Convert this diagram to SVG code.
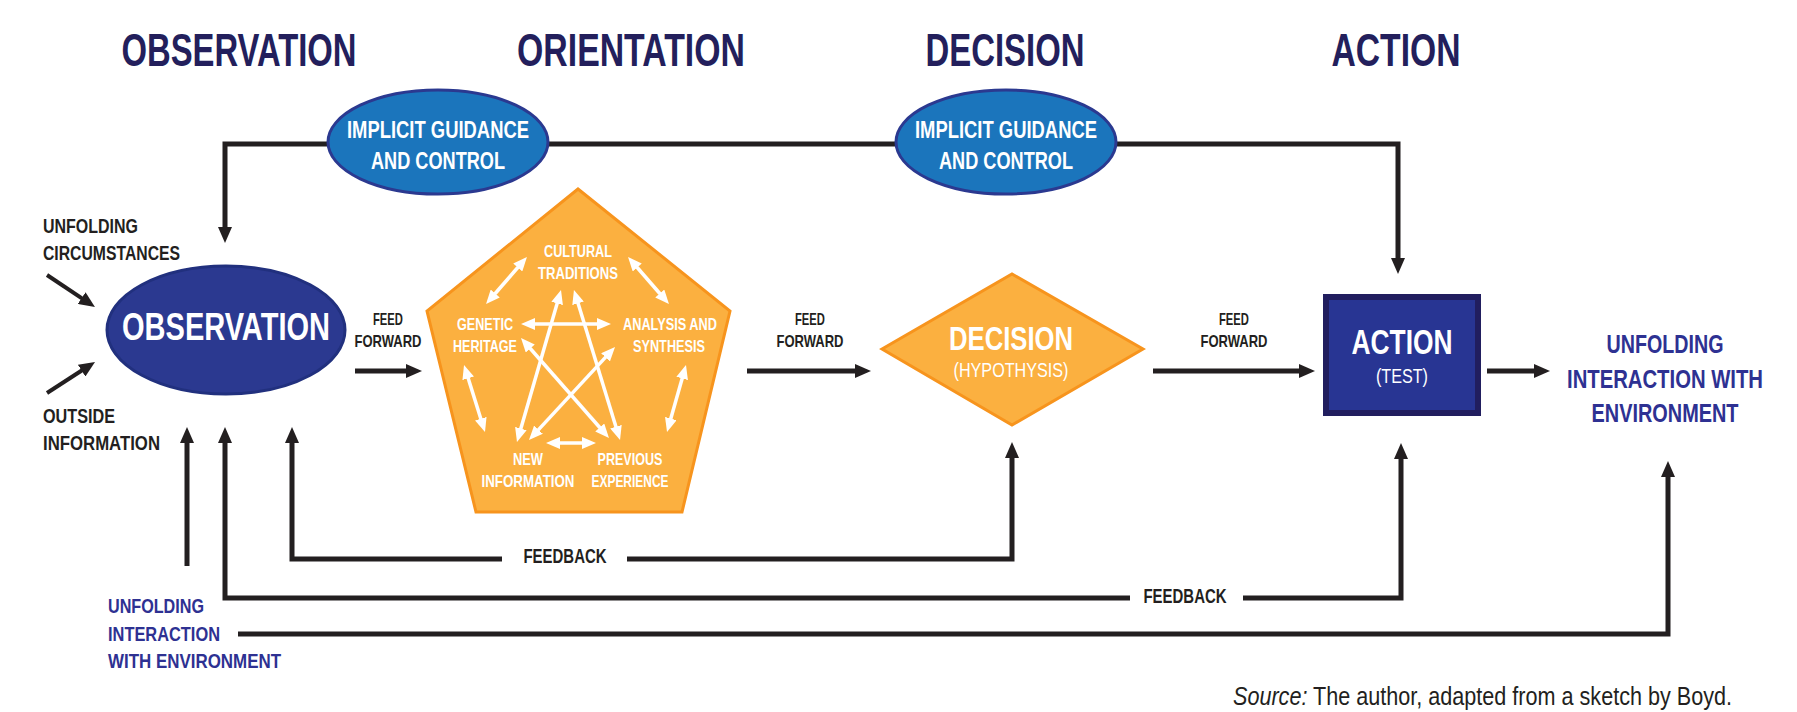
<svg xmlns="http://www.w3.org/2000/svg" width="1797" height="712" viewBox="0 0 1797 712">
<style>
text{font-family:"Liberation Sans",Arial,sans-serif;font-weight:bold}
text.nb{font-weight:normal}
.title{font-size:46px;fill:#231f5c;text-anchor:middle}
.wt{fill:#ffffff;text-anchor:middle}
.lbl{font-size:20px;fill:#231f20}
.ff{font-size:17px;fill:#231f20;text-anchor:middle}
.blue{fill:#2e3192}
.pt{font-size:16.5px;fill:#ffffff;text-anchor:middle}
.conn{fill:none;stroke:#231f20;stroke-width:5;stroke-linejoin:miter}
.thin{stroke-width:4}
.warr{stroke:#ffffff;stroke-width:3.5;fill:none;marker-start:url(#wh);marker-end:url(#wh)}
.igc{fill:#1b75bc;stroke:#2b3990;stroke-width:3}
.orange{fill:#fbb040;stroke:#f7941d;stroke-width:3}
</style>
<defs>
<marker id="ah" viewBox="0 0 16 14" refX="8" refY="7" markerWidth="16" markerHeight="14" markerUnits="userSpaceOnUse" orient="auto-start-reverse">
<path d="M0,0 L16,7 L0,14 z" fill="#231f20"/>
</marker>
<marker id="wh" viewBox="0 0 14 12" refX="6" refY="6" markerWidth="14" markerHeight="12" markerUnits="userSpaceOnUse" orient="auto-start-reverse">
<path d="M0,0 L14,6 L0,12 z" fill="#ffffff"/>
</marker>
</defs>
<rect width="1797" height="712" fill="#ffffff"/>

<g id="titles">
<text class="title" x="239" y="66" textLength="235" lengthAdjust="spacingAndGlyphs">OBSERVATION</text>
<text class="title" x="631" y="66" textLength="228" lengthAdjust="spacingAndGlyphs">ORIENTATION</text>
<text class="title" x="1005" y="66" textLength="159" lengthAdjust="spacingAndGlyphs">DECISION</text>
<text class="title" x="1396" y="66" textLength="129" lengthAdjust="spacingAndGlyphs">ACTION</text>
</g>

<g id="connectors">
<path class="conn" d="M1398,266 V144 H225 V235" marker-start="url(#ah)" marker-end="url(#ah)"/>
<path class="conn thin" d="M47,275 L88.3,302.6" marker-end="url(#ah)"/>
<path class="conn thin" d="M47,393 L88.3,366.3" marker-end="url(#ah)"/>
<path class="conn" d="M355,371 H414" marker-end="url(#ah)"/>
<path class="conn" d="M747,371 H863" marker-end="url(#ah)"/>
<path class="conn" d="M1153,371 H1307" marker-end="url(#ah)"/>
<path class="conn" d="M1487,371 H1542" marker-end="url(#ah)"/>
<path class="conn" d="M187,566 V435" marker-end="url(#ah)"/>
<path class="conn" d="M225,435 V598 H1401 V451" marker-start="url(#ah)" marker-end="url(#ah)"/>
<path class="conn" d="M292,435 V559 H1012 V450" marker-start="url(#ah)" marker-end="url(#ah)"/>
<path class="conn" d="M238,634 H1668 V469" marker-end="url(#ah)"/>
<rect x="502" y="545" width="125" height="28" fill="#ffffff"/>
<text class="lbl" x="565" y="563" text-anchor="middle" textLength="83" lengthAdjust="spacingAndGlyphs">FEEDBACK</text>
<rect x="1130" y="585" width="113" height="28" fill="#ffffff"/>
<text class="lbl" x="1185" y="603" text-anchor="middle" textLength="83" lengthAdjust="spacingAndGlyphs">FEEDBACK</text>
<text class="ff" x="388" y="325" textLength="30" lengthAdjust="spacingAndGlyphs">FEED</text>
<text class="ff" x="388" y="347" textLength="67" lengthAdjust="spacingAndGlyphs">FORWARD</text>
<text class="ff" x="810" y="325" textLength="30" lengthAdjust="spacingAndGlyphs">FEED</text>
<text class="ff" x="810" y="347" textLength="67" lengthAdjust="spacingAndGlyphs">FORWARD</text>
<text class="ff" x="1234" y="325" textLength="30" lengthAdjust="spacingAndGlyphs">FEED</text>
<text class="ff" x="1234" y="347" textLength="67" lengthAdjust="spacingAndGlyphs">FORWARD</text>
</g>

<g id="igc-left">
<ellipse class="igc" cx="438" cy="142" rx="110" ry="52"/>
<text class="wt" x="438" y="138" font-size="24" textLength="182" lengthAdjust="spacingAndGlyphs">IMPLICIT GUIDANCE</text>
<text class="wt" x="438" y="169" font-size="24" textLength="134" lengthAdjust="spacingAndGlyphs">AND CONTROL</text>
</g>
<g id="igc-right">
<ellipse class="igc" cx="1006" cy="142" rx="110" ry="52"/>
<text class="wt" x="1006" y="138" font-size="24" textLength="182" lengthAdjust="spacingAndGlyphs">IMPLICIT GUIDANCE</text>
<text class="wt" x="1006" y="169" font-size="24" textLength="134" lengthAdjust="spacingAndGlyphs">AND CONTROL</text>
</g>

<g id="inputs">
<text class="lbl" x="43" y="233" textLength="95" lengthAdjust="spacingAndGlyphs">UNFOLDING</text>
<text class="lbl" x="43" y="260" textLength="137" lengthAdjust="spacingAndGlyphs">CIRCUMSTANCES</text>
<text class="lbl" x="43" y="423" textLength="72" lengthAdjust="spacingAndGlyphs">OUTSIDE</text>
<text class="lbl" x="43" y="450" textLength="117" lengthAdjust="spacingAndGlyphs">INFORMATION</text>
</g>

<g id="observation">
<ellipse cx="226" cy="330" rx="119" ry="64" fill="#2b3990" stroke="#21307e" stroke-width="3"/>
<text class="wt" x="226" y="340" font-size="39" textLength="208" lengthAdjust="spacingAndGlyphs">OBSERVATION</text>
</g>

<g id="orientation">
<polygon class="orange" points="578,189 730,311 682,512 476,512 427,311"/>
<path class="warr" d="M521.7,263 L491.3,298"/>
<path class="warr" d="M633.3,263 L663.7,298"/>
<path class="warr" d="M529,324 L603,324"/>
<path class="warr" d="M466.4,372.6 L482.6,424.4"/>
<path class="warr" d="M683.8,372.7 L669.2,424.3"/>
<path class="warr" d="M554,443 L588,443"/>
<path class="warr" d="M558.8,297.7 L519.2,434.3"/>
<path class="warr" d="M576.3,297.6 L617.7,432.4"/>
<path class="warr" d="M526.3,344 L603.7,432"/>
<path class="warr" d="M609.6,352.9 L534.4,434.1"/>
<text class="pt" x="578" y="257" textLength="68" lengthAdjust="spacingAndGlyphs">CULTURAL</text>
<text class="pt" x="578" y="279" textLength="80" lengthAdjust="spacingAndGlyphs">TRADITIONS</text>
<text class="pt" x="485" y="330" textLength="56" lengthAdjust="spacingAndGlyphs">GENETIC</text>
<text class="pt" x="485" y="352" textLength="64" lengthAdjust="spacingAndGlyphs">HERITAGE</text>
<text class="pt" x="670" y="330" textLength="94" lengthAdjust="spacingAndGlyphs">ANALYSIS AND</text>
<text class="pt" x="669" y="352" textLength="72" lengthAdjust="spacingAndGlyphs">SYNTHESIS</text>
<text class="pt" x="528" y="465" textLength="30" lengthAdjust="spacingAndGlyphs">NEW</text>
<text class="pt" x="528" y="487" textLength="93" lengthAdjust="spacingAndGlyphs">INFORMATION</text>
<text class="pt" x="630" y="465" textLength="65" lengthAdjust="spacingAndGlyphs">PREVIOUS</text>
<text class="pt" x="630" y="487" textLength="77" lengthAdjust="spacingAndGlyphs">EXPERIENCE</text>
</g>

<g id="decision">
<polygon class="orange" points="882,349 1012,274 1143,349 1012,425"/>
<text class="wt" x="1011" y="350" font-size="34" textLength="124" lengthAdjust="spacingAndGlyphs">DECISION</text>
<text class="wt nb" x="1011" y="377" font-size="20" textLength="115" lengthAdjust="spacingAndGlyphs">(HYPOTHYSIS)</text>
</g>

<g id="action">
<rect x="1326" y="297" width="152" height="116" fill="#283593" stroke="#211e5f" stroke-width="6"/>
<text class="wt" x="1402" y="354" font-size="35" textLength="101" lengthAdjust="spacingAndGlyphs">ACTION</text>
<text class="wt nb" x="1402" y="383" font-size="20" textLength="52" lengthAdjust="spacingAndGlyphs">(TEST)</text>
</g>

<g id="unfolding-right">
<text class="blue" x="1665" y="353" font-size="26" text-anchor="middle" textLength="117" lengthAdjust="spacingAndGlyphs">UNFOLDING</text>
<text class="blue" x="1665" y="388" font-size="26" text-anchor="middle" textLength="196" lengthAdjust="spacingAndGlyphs">INTERACTION WITH</text>
<text class="blue" x="1665" y="422" font-size="26" text-anchor="middle" textLength="147" lengthAdjust="spacingAndGlyphs">ENVIRONMENT</text>
</g>

<g id="unfolding-left">
<text class="blue" x="108" y="613" font-size="21" textLength="96" lengthAdjust="spacingAndGlyphs">UNFOLDING</text>
<text class="blue" x="108" y="641" font-size="21" textLength="112" lengthAdjust="spacingAndGlyphs">INTERACTION</text>
<text class="blue" x="108" y="668" font-size="21" textLength="173" lengthAdjust="spacingAndGlyphs">WITH ENVIRONMENT</text>
</g>

<g id="source">
<text class="nb" x="1233" y="705" font-size="25" fill="#231f20" textLength="499" lengthAdjust="spacingAndGlyphs"><tspan font-style="italic">Source:</tspan> The author, adapted from a sketch by Boyd.</text>
</g>
</svg>
